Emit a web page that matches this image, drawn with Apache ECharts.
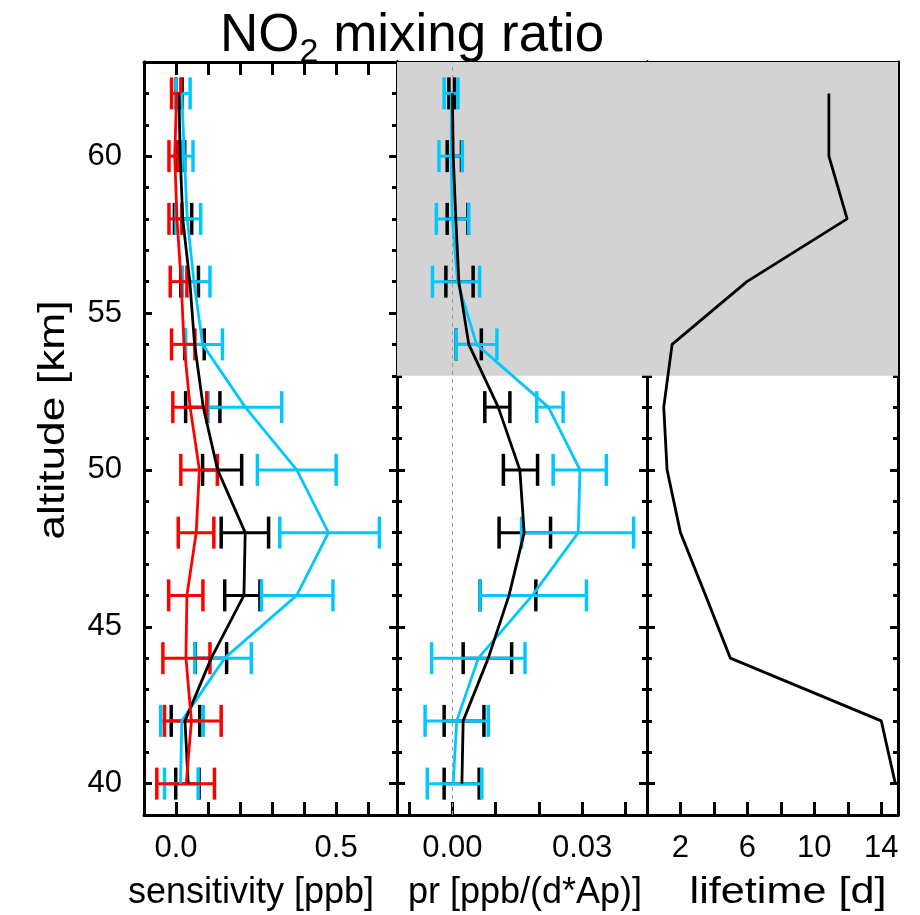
<!DOCTYPE html>
<html><head><meta charset="utf-8">
<script src="https://cdn.jsdelivr.net/npm/echarts@6/dist/echarts.min.js"></script>
<style>html,body{margin:0;padding:0;background:#fff}#c{width:920px;height:915px}</style>
</head><body><div id="c"></div>
<script>
// ---------- data (altitude order 40..62 km) ----------
const altitudes = [40, 42, 44, 46, 48, 50, 52, 54, 56, 58, 60, 62];

// left panel: sensitivity [ppb]
const sensRedLine  = [0.032, 0.048, 0.031, 0.034, 0.063, 0.073, 0.044, 0.025, 0.016, 0.003, -0.004, 0.002];
const sensRedLow   = [-0.060, -0.036, -0.041, -0.023, 0.007, 0.015, -0.010, -0.014, -0.018, -0.022, -0.022, -0.014];
const sensRedHigh  = [0.120, 0.141, 0.106, 0.084, 0.118, 0.129, 0.096, 0.059, 0.034, 0.018, 0.007, 0.015];

const sensBlackLine = [0.038, 0.028, 0.110, 0.212, 0.216, 0.130, 0.085, 0.058, 0.043, 0.021, 0.013, 0.009];
const sensBlackLow  = [-0.001, -0.015, 0.060, 0.152, 0.141, 0.083, 0.030, 0.027, 0.015, -0.005, -0.001, 0.000];
const sensBlackHigh = [0.072, 0.074, 0.158, 0.262, 0.289, 0.205, 0.137, 0.088, 0.070, 0.049, 0.027, 0.019];

const sensCyanLine = [0.014, 0.018, 0.152, 0.377, 0.476, 0.377, 0.216, 0.083, 0.056, 0.035, 0.026, 0.018];
const sensCyanLow  = [-0.036, -0.048, 0.059, 0.267, 0.324, 0.254, 0.100, 0.030, 0.020, 0.000, 0.018, 0.000];
const sensCyanHigh = [0.069, 0.085, 0.235, 0.490, 0.635, 0.500, 0.330, 0.145, 0.106, 0.077, 0.053, 0.044];

// middle panel: pr [ppb/(d*Ap)]
const prBlackLine = [0.0022, 0.0025, 0.0083, 0.0131, 0.0166, 0.0156, 0.0106, 0.0038, 0.0015, 0.0008, 0.0002, 0.0000];
const prBlackLow  = [-0.0019, -0.0019, 0.0025, 0.0064, 0.0108, 0.0118, 0.0075, 0.0009, -0.0015, -0.0012, -0.0012, -0.0008];
const prBlackHigh = [0.0062, 0.0073, 0.0137, 0.0193, 0.0227, 0.0197, 0.0133, 0.0067, 0.0048, 0.0036, 0.0021, 0.0005];

const prCyanLine = [0.0002, 0.0010, 0.0060, 0.0185, 0.0291, 0.0295, 0.0222, 0.0056, 0.0012, 0.0000, -0.0003, -0.0002];
const prCyanLow  = [-0.0058, -0.0063, -0.0048, 0.0064, 0.0160, 0.0233, 0.0195, 0.0009, -0.0046, -0.0037, -0.0031, -0.0019];
const prCyanHigh = [0.0068, 0.0083, 0.0168, 0.0310, 0.0419, 0.0356, 0.0256, 0.0103, 0.0063, 0.0038, 0.0023, 0.0013];

// right panel: lifetime [d]
const lifetime = [14.84, 14.0, 4.98, 3.5, 2.0, 1.2, 1.0, 1.5, 5.97, 11.96, 10.87, 10.87];

// shading of upper altitudes (middle & right panels)
const shadeFrom = 53, shadeTo = 63;

// axis ranges and ticks
const altMin = 39, altMax = 63;
const altMajor = [40, 45, 50, 55, 60];
const sensRange = [-0.1, 0.69], sensTicks = [0, 0.1, 0.2, 0.3, 0.4, 0.5, 0.6], sensLabels = [0, 0.5];
const prRange = [-0.0128, 0.045], prTicks = [-0.01, 0, 0.01, 0.02, 0.03, 0.04], prLabels = [0, 0.03];
const lifeRange = [0, 15], lifeTicks = [2, 4, 6, 8, 10, 12, 14], lifeLabels = [2, 6, 10, 14];

// ---------- chart ----------
const RED = '#ff0000', BLACK = '#000000', CYAN = '#00c8ff';
const FONT = 'Liberation Sans, Arial, sans-serif';

const chart = echarts.init(document.getElementById('c'), null, {renderer: 'canvas'});

const grids = [
  {left: 144, top: 62, width: 253, height: 753},
  {left: 397, top: 62, width: 250, height: 753},
  {left: 647, top: 62, width: 251, height: 753}
];

const xAxes = [], yAxes = [];
function addX(gi, range, ticks, labels, fmt) {
  const common = {type: 'value', gridIndex: gi, min: range[0], max: range[1],
    splitLine: {show: false},
    axisLine: {show: true, onZero: false, lineStyle: {color: '#000', width: 3}}};
  xAxes.push(Object.assign({}, common, {position: 'bottom',
    axisTick: {show: true, inside: true, length: 13, customValues: ticks, lineStyle: {width: 3, color: '#000'}},
    axisLabel: {show: true, customValues: labels, formatter: fmt, margin: 18,
      fontSize: 31, color: '#000', fontFamily: FONT}}));
  xAxes.push(Object.assign({}, common, {position: 'top',
    axisTick: {show: true, inside: true, length: 13, customValues: ticks, lineStyle: {width: 3, color: '#000'}},
    axisLabel: {show: false}}));
  return xAxes.length - 2;
}
function addY(gi, withLabels) {
  const common = {type: 'value', gridIndex: gi, min: altMin, max: altMax,
    splitLine: {show: false},
    axisLine: {show: true, onZero: false, lineStyle: {color: '#000', width: 3}}};
  yAxes.push(Object.assign({}, common, {position: 'left', interval: 1,
    axisTick: {show: true, inside: true, length: 5, lineStyle: {width: 3, color: '#000'}},
    axisLabel: {show: false}}));
  yAxes.push(Object.assign({}, common, {position: 'left',
    axisTick: {show: true, inside: true, length: 8, customValues: altMajor, lineStyle: {width: 3, color: '#000'}},
    axisLabel: {show: withLabels, customValues: altMajor, margin: 22, fontSize: 31, color: '#000', fontFamily: FONT}}));
  yAxes.push(Object.assign({}, common, {position: 'right', interval: 1,
    axisTick: {show: true, inside: true, length: 5, lineStyle: {width: 3, color: '#000'}},
    axisLabel: {show: false}}));
  yAxes.push(Object.assign({}, common, {position: 'right',
    axisTick: {show: true, inside: true, length: 8, customValues: altMajor, lineStyle: {width: 3, color: '#000'}},
    axisLabel: {show: false}}));
  return yAxes.length - 3; // the major left axis index
}

const x0 = addX(0, sensRange, sensTicks, sensLabels, v => v.toFixed(1));
const y0 = addY(0, true);
const x1 = addX(1, prRange, prTicks, prLabels, v => v.toFixed(2));
const y1 = addY(1, false);
const x2 = addX(2, lifeRange, lifeTicks, lifeLabels, v => String(Math.round(v)));
const y2 = addY(2, false);

function pairs(vals) { return vals.map((v, i) => [v, altitudes[i]]); }
function errData(lo, hi) { return altitudes.map((a, i) => [a, lo[i], hi[i]]); }

function errSeries(xi, yi, lo, hi, color, z) {
  return {
    type: 'custom', xAxisIndex: xi, yAxisIndex: yi, z: z, clip: false,
    encode: {x: [1, 2], y: 0},
    data: errData(lo, hi),
    renderItem: function (params, api) {
      const a = api.value(0);
      const p1 = api.coord([api.value(1), a]);
      const p2 = api.coord([api.value(2), a]);
      const h = 16;
      const st = {stroke: color, lineWidth: 3.5};
      return {type: 'group', children: [
        {type: 'line', shape: {x1: p1[0], y1: p1[1], x2: p2[0], y2: p2[1]}, style: {stroke: color, lineWidth: 3}},
        {type: 'line', shape: {x1: p1[0], y1: p1[1] - h, x2: p1[0], y2: p1[1] + h}, style: st},
        {type: 'line', shape: {x1: p2[0], y1: p2[1] - h, x2: p2[0], y2: p2[1] + h}, style: st}
      ]};
    }
  };
}
function lineSeries(xi, yi, vals, color, z, extra) {
  return Object.assign({
    type: 'line', xAxisIndex: xi, yAxisIndex: yi, z: z, data: pairs(vals),
    symbol: 'none', lineStyle: {color: color, width: 2.8}, silent: true, animation: false
  }, extra || {});
}

const shadeArea = {silent: true, itemStyle: {color: '#d3d3d3'},
  data: [[{yAxis: shadeFrom}, {yAxis: shadeTo}]]};

const series = [
  // left panel
  errSeries(x0, y0, sensBlackLow, sensBlackHigh, BLACK, 3),
  errSeries(x0, y0, sensCyanLow, sensCyanHigh, CYAN, 4),
  errSeries(x0, y0, sensRedLow, sensRedHigh, RED, 5),
  lineSeries(x0, y0, sensCyanLine, CYAN, 6),
  lineSeries(x0, y0, sensBlackLine, BLACK, 7),
  lineSeries(x0, y0, sensRedLine, RED, 8),
  // middle panel
  lineSeries(x1, y1, prBlackLine, BLACK, 1, {
    lineStyle: {opacity: 0}, markArea: shadeArea,
    markLine: {silent: true, symbol: 'none', label: {show: false},
      lineStyle: {type: [4, 4], color: '#9a9a9a', width: 1}, data: [{xAxis: 0}]}}),
  errSeries(x1, y1, prBlackLow, prBlackHigh, BLACK, 3),
  errSeries(x1, y1, prCyanLow, prCyanHigh, CYAN, 4),
  lineSeries(x1, y1, prCyanLine, CYAN, 6),
  lineSeries(x1, y1, prBlackLine, BLACK, 7),
  // right panel
  lineSeries(x2, y2, lifetime, BLACK, 5, {markArea: shadeArea, clip: false})
];

chart.setOption({
  animation: false,
  backgroundColor: '#fff',
  title: {
    text: '{a|NO}{s|2}{a| mixing ratio}', left: 215, top: 5,
    textStyle: {fontWeight: 'normal', rich: {
      a: {fontSize: 53, lineHeight: 53, verticalAlign: 'top', fontWeight: 'normal', color: '#000', fontFamily: FONT},
      s: {fontSize: 34, padding: [26, 0, 0, 0], verticalAlign: 'bottom', fontWeight: 'normal', color: '#000', fontFamily: FONT}
    }}
  },
  grid: grids,
  xAxis: xAxes,
  yAxis: yAxes,
  series: series,
  graphic: [
    {type: 'text', x: 54, y: 420, rotation: Math.PI / 2, scaleX: 1.2,
      style: {text: 'altitude [km]', font: '37px ' + FONT, fill: '#000', align: 'center', verticalAlign: 'middle'}},
    {type: 'text', x: 251, y: 893,
      style: {text: 'sensitivity [ppb]', font: '36px ' + FONT, fill: '#000', align: 'center', verticalAlign: 'middle'}},
    {type: 'text', x: 525, y: 893,
      style: {text: 'pr [ppb/(d*Ap)]', font: '36px ' + FONT, fill: '#000', align: 'center', verticalAlign: 'middle'}},
    {type: 'text', x: 788, y: 893, scaleX: 1.2,
      style: {text: 'lifetime [d]', font: '36px ' + FONT, fill: '#000', align: 'center', verticalAlign: 'middle'}}
  ]
});
</script>
</body></html>
